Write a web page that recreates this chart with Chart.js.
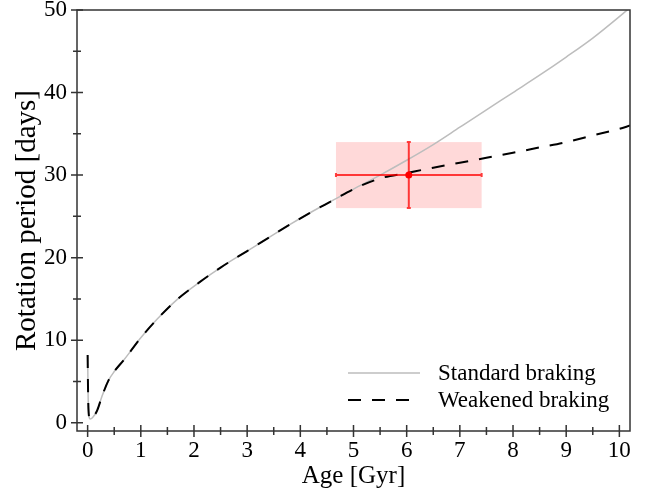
<!DOCTYPE html>
<html>
<head>
<meta charset="utf-8">
<script src="https://cdn.jsdelivr.net/npm/chart.js@4.4.0/dist/chart.umd.min.js"></script>
<style>
body{margin:0;background:#fff;}
#grafico{display:block;}
</style>
</head>
<body>
<canvas id="grafico" width="649" height="493"></canvas>
<script>
// Data
let ages = [0, 0.01, 0.025, 0.05, 0.09, 0.18, 0.27, 0.39, 0.5, 0.68, 0.8, 1.0, 1.3, 1.66, 2.1, 2.5, 3.0, 3.4, 3.8, 4.2, 4.6, 5.0, 5.5, 6.0, 6.5, 7.0, 7.5, 8.0, 8.5, 9.0, 9.5, 10.0, 10.2];
let periodStandard = [8.2, 3.0, 0.8, 0.45, 0.6, 1.5, 3.2, 5.1, 6.2, 7.6, 8.6, 10.3, 12.5, 14.8, 17.0, 18.8, 20.8, 22.4, 24.0, 25.5, 26.9, 28.3, 30.0, 31.8, 33.7, 35.8, 37.9, 40.0, 42.1, 44.3, 46.6, 49.2, 50.3];
let periodWeakened = [8.2, 3.0, 0.8, 0.45, 0.6, 1.5, 3.2, 5.1, 6.2, 7.6, 8.6, 10.3, 12.5, 14.8, 17.0, 18.8, 20.8, 22.4, 24.0, 25.5, 26.9, 28.3, 29.6, 30.25, 30.9, 31.5, 32.1, 32.7, 33.35, 34.0, 34.8, 35.6, 36.0];
let seriesNames = ["Standard braking", "Weakened braking"];

// Observed star (age +- error, period +- error)
let obsAge = 6.04, obsAgeErr = 1.37;
let obsPeriod = 30, obsPeriodErr = 4;

// Labelled ticks
let xLabelTicks = [0, 1, 2, 3, 4, 5, 6, 7, 8, 9, 10];
let yLabelTicks = [0, 10, 20, 30, 40, 50];

function puntos(xs, ys){
  return xs.map((v, i) => ({x: v, y: ys[i]}));
}

const serif = "'Liberation Serif', 'Times New Roman', serif";

const extras = {
  id: 'extras',
  beforeDatasetsDraw(chart){
    const {ctx, scales: {x, y}} = chart;
    let x0 = x.getPixelForValue(obsAge - obsAgeErr), x1 = x.getPixelForValue(obsAge + obsAgeErr);
    let y0 = y.getPixelForValue(obsPeriod + obsPeriodErr), y1 = y.getPixelForValue(obsPeriod - obsPeriodErr);
    ctx.save();
    ctx.fillStyle = 'rgba(255,0,0,0.15)';
    ctx.fillRect(x0, y0, x1 - x0, y1 - y0);
    ctx.restore();
  },
  afterDatasetsDraw(chart){
    const {ctx, scales: {x, y}} = chart;
    let cx = x.getPixelForValue(obsAge), cy = y.getPixelForValue(obsPeriod);
    let x0 = x.getPixelForValue(obsAge - obsAgeErr), x1 = x.getPixelForValue(obsAge + obsAgeErr);
    let y0 = y.getPixelForValue(obsPeriod + obsPeriodErr), y1 = y.getPixelForValue(obsPeriod - obsPeriodErr);
    ctx.save();
    ctx.strokeStyle = 'rgba(255,0,0,0.75)';
    ctx.lineWidth = 2;
    ctx.beginPath();
    ctx.moveTo(x0, cy); ctx.lineTo(x1, cy);
    ctx.moveTo(cx, y0); ctx.lineTo(cx, y1);
    // caps
    ctx.moveTo(x0, cy - 2); ctx.lineTo(x0, cy + 2);
    ctx.moveTo(x1, cy - 2); ctx.lineTo(x1, cy + 2);
    ctx.moveTo(cx - 2, y0); ctx.lineTo(cx + 2, y0);
    ctx.moveTo(cx - 2, y1); ctx.lineTo(cx + 2, y1);
    ctx.stroke();
    ctx.fillStyle = '#ff0000';
    ctx.beginPath();
    ctx.arc(cx, cy, 3.5, 0, Math.PI * 2);
    ctx.fill();
    ctx.restore();
  },
  afterDraw(chart){
    const {ctx, chartArea: a, scales: {x, y}} = chart;
    ctx.save();
    // frame
    ctx.strokeStyle = '#333';
    ctx.lineWidth = 1.5;
    ctx.strokeRect(a.left, a.top, a.right - a.left, a.bottom - a.top);
    // ticks crossing the axis line
    ctx.beginPath();
    x.ticks.forEach(t => {
      let px = x.getPixelForValue(t.value);
      let l = xLabelTicks.includes(t.value) ? 6 : 4;
      ctx.moveTo(px, a.bottom - l); ctx.lineTo(px, a.bottom + l);
    });
    y.ticks.forEach(t => {
      let py = y.getPixelForValue(t.value);
      let l = yLabelTicks.includes(t.value) ? 6 : 4;
      ctx.moveTo(a.left - l, py); ctx.lineTo(a.left + l, py);
    });
    ctx.stroke();

    // legend inside plot
    ctx.font = "23px " + serif;
    ctx.textBaseline = 'middle';
    ctx.fillStyle = '#000';
    chart.data.datasets.forEach((ds, i) => {
      let ly = a.bottom - 58 + i * 27;
      ctx.strokeStyle = ds.borderColor;
      ctx.lineWidth = ds.borderWidth;
      ctx.setLineDash(ds.borderDash || []);
      ctx.beginPath();
      ctx.moveTo(a.right - 282, ly); ctx.lineTo(a.right - 210, ly);
      ctx.stroke();
      ctx.setLineDash([]);
      ctx.fillText(ds.label, a.right - 192, ly + 1);
    });
    ctx.restore();
  }
};

new Chart(document.getElementById("grafico"), {
  type: "scatter",
  data: {
    datasets: [
      {label: seriesNames[0], data: puntos(ages, periodStandard), showLine: true, borderColor: "#bdbdbd", borderWidth: 1.5, pointRadius: 0, cubicInterpolationMode: "monotone", order: 2},
      {label: seriesNames[1], data: puntos(ages, periodWeakened), showLine: true, borderColor: "#000", borderWidth: 2, borderDash: [13, 11], pointRadius: 0, cubicInterpolationMode: "monotone", order: 1}
    ]
  },
  options: {
    responsive: false,
    animation: false,
    layout: {padding: {top: 10, right: 19, left: 0, bottom: 0}},
    plugins: {legend: {display: false}, tooltip: {enabled: false}},
    scales: {
      x: {
        type: "linear", min: -0.2, max: 10.2,
        grid: {display: false, drawTicks: false}, border: {display: false},
        ticks: {stepSize: 0.5, includeBounds: false, padding: 6, color: "#000", font: {family: serif, size: 23},
          autoSkip: false, maxRotation: 0,
          callback: v => xLabelTicks.includes(v) ? v : ""},
        title: {display: true, text: "Age [Gyr]", color: "#000", font: {family: serif, size: 25}, padding: {top: 0, bottom: 2}},
        afterFit(s){ s.height = 62; s.paddingLeft = 0; s.paddingRight = 0; }
      },
      y: {
        type: "linear", min: -1, max: 50,
        grid: {display: false, drawTicks: false}, border: {display: false},
        ticks: {stepSize: 5, includeBounds: false, padding: 10, color: "#000", font: {family: serif, size: 23},
          autoSkip: false,
          callback: v => yLabelTicks.includes(v) ? v : ""},
        title: {display: true, text: "Rotation period [days]", color: "#000", font: {family: serif, size: 29}, padding: {top: 10, bottom: 0}},
        afterFit(s){ s.width = 77; s.paddingTop = 0; s.paddingBottom = 0; }
      }
    }
  },
  plugins: [extras]
});
</script>
</body>
</html>
